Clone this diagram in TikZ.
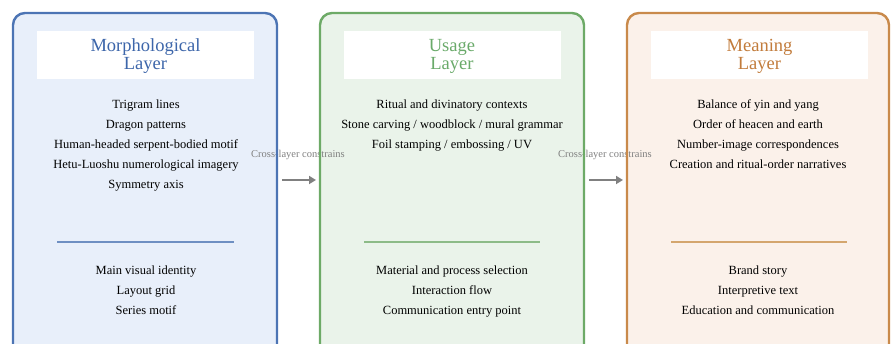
\documentclass[tikz,border=0pt]{standalone}
\usepackage{fontspec}
\setmainfont{Liberation Serif}
\usetikzlibrary{arrows.meta}
\definecolor{bA}{HTML}{4C74B4}\definecolor{fA}{HTML}{E8EFFA}\definecolor{tA}{HTML}{3D66AA}\definecolor{dA}{HTML}{6E8FC2}
\definecolor{bB}{HTML}{6DAA67}\definecolor{fB}{HTML}{EAF3EA}\definecolor{tB}{HTML}{6AAA6A}\definecolor{dB}{HTML}{8DBB88}
\definecolor{bC}{HTML}{C98A4B}\definecolor{fC}{HTML}{FBF1EA}\definecolor{tC}{HTML}{C27C3C}\definecolor{dC}{HTML}{D4A66E}
\definecolor{gr}{HTML}{808080}
\tikzset{
  x=1pt,y=1pt,
  layerfill/.style={rounded corners=12pt},
  layerborder/.style={rounded corners=12pt,line width=2.4pt},
  titlebox/.style={fill=white,draw=none,minimum width=217pt,minimum height=48pt,inner sep=0pt},
  titletxt/.style={align=center,font=\fontsize{18.5}{18}\selectfont,inner sep=0pt},
  bodytxt/.style={align=center,font=\fontsize{12.5}{20}\selectfont,inner sep=0pt},
  crosslbl/.style={text=gr,font=\fontsize{10.5}{12}\selectfont,inner sep=0pt},
  divider/.style={line width=1.6pt},
  flowarrow/.style={draw=gr,line width=2.2pt,-{Triangle[length=7pt,width=8pt]}}
}
\begin{document}
\begin{tikzpicture}
\useasboundingbox (0,0) rectangle (891,344);
\clip (0,0) rectangle (891,344);
% fills
\fill[fA,layerfill] (13,331) rectangle (277,-20);
\fill[fB,layerfill] (320,331) rectangle (584,-20);
\fill[fC,layerfill] (627,331) rectangle (889,-20);
% cross labels
\node[crosslbl] (c1) at (298,189) {Cross-layer constrains};
\node[crosslbl] (c2) at (605,189) {Cross-layer constrains};
% borders
\draw[bA,layerborder] (13,331) rectangle (277,-20);
\draw[bB,layerborder] (320,331) rectangle (584,-20);
\draw[bC,layerborder] (627,331) rectangle (889,-20);
% titles
\node[titlebox] (tb1) at (145.5,289) {};
\node[titlebox] (tb2) at (452,289) {};
\node[titlebox] (tb3) at (759.5,289) {};
\node[titletxt,text=tA] (t1) at (145.5,288) {Morphological\\Layer};
\node[titletxt,text=tB] (t2) at (452,288) {Usage\\Layer};
\node[titletxt,text=tC] (t3) at (759.5,288) {Meaning\\Layer};
% body lists
\node[bodytxt,anchor=north] (m1) at (146,244) {Trigram lines\\Dragon patterns\\Human-headed serpent-bodied motif\\Hetu-Luoshu numerological imagery\\Symmetry axis};
\node[bodytxt,anchor=north] (u1) at (452,244) {Ritual and divinatory contexts\\Stone carving / woodblock / mural grammar\\Foil stamping / embossing / UV};
\node[bodytxt,anchor=north] (s1) at (758,244) {Balance of yin and yang\\Order of heacen and earth\\Number-image correspondences\\Creation and ritual-order narratives};
% dividers
\draw[dA,divider] (57,102) -- (234,102);
\draw[dB,divider] (364,102) -- (540,102);
\draw[dC,divider] (671,102) -- (847,102);
% bottom lists
\node[bodytxt,anchor=north] (m2) at (146,78) {Main visual identity\\Layout grid\\Series motif};
\node[bodytxt,anchor=north] (u2) at (452,78) {Material and process selection\\Interaction flow\\Communication entry point};
\node[bodytxt,anchor=north] (s2) at (758,78) {Brand story\\Interpretive text\\Education and communication};
% arrows
\coordinate (a1s) at (282,164); \coordinate (a1e) at (316,164);
\coordinate (a2s) at (589,164); \coordinate (a2e) at (623,164);
\draw[flowarrow] (a1s) -- (a1e);
\draw[flowarrow] (a2s) -- (a2e);
\end{tikzpicture}
\end{document}
